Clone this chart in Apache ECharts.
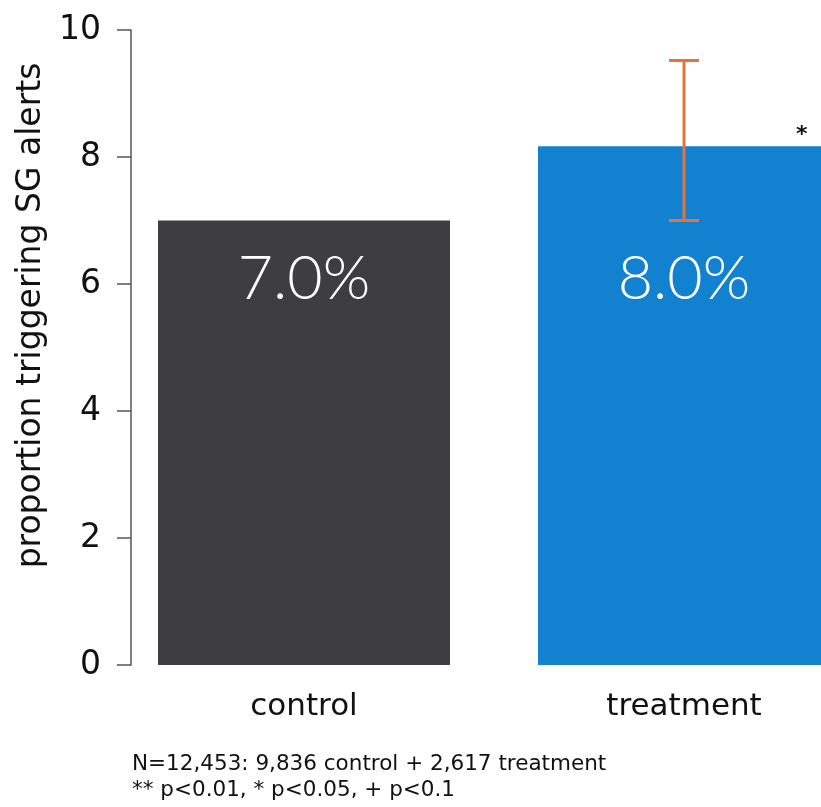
<!DOCTYPE html>
<html>
<head>
<meta charset="utf-8">
<script src="https://cdn.jsdelivr.net/npm/echarts@6/dist/echarts.min.js"></script>
<style>html,body{margin:0;padding:0;background:#fff}#c{width:821px;height:807px}</style>
</head>
<body>
<div id="c"></div>
<script>
const categories = ['control', 'treatment'];
const values = [7.0, 8.17];
const barLabels = ['7.0%', '8.0%'];
const significance = ['', '*'];
const errLow = [null, 7.0];
const errHigh = [null, 9.52];
const yTicks = [0, 2, 4, 6, 8, 10];
const yName = 'proportion triggering SG alerts';
const footnote = ['N=12,453: 9,836 control + 2,617 treatment', '** p<0.01, * p<0.05, + p<0.1'];

const FONT = '"DejaVu Sans", "Noto Sans", sans-serif';
const LIGHT = 'Lato, "Noto Sans", sans-serif';
const barColors = ['#3e3e42', '#1282d0'];

const chart = echarts.init(document.getElementById('c'), null, {renderer: 'canvas'});

const errData = [];
errLow.forEach((lo, i) => { if (lo != null) errData.push([i, lo, errHigh[i]]); });

chart.setOption({
  animation: false,
  backgroundColor: '#fff',
  grid: {left: 114, top: 30, right: -53, height: 635, containLabel: false, outerBoundsMode: 'none'},
  xAxis: {
    type: 'category',
    data: categories,
    axisLine: {show: false},
    axisTick: {show: false},
    axisLabel: {color: '#111', fontSize: 31, fontFamily: FONT, margin: 26}
  },
  yAxis: {
    type: 'value',
    min: yTicks[0],
    max: yTicks[yTicks.length - 1],
    interval: 2,
    offset: -17,
    splitLine: {show: false},
    axisLine: {show: true, lineStyle: {color: '#555', width: 1.5}},
    axisTick: {show: true, length: 14, lineStyle: {color: '#555', width: 1.5}},
    axisLabel: {color: '#111', fontSize: 33, fontFamily: FONT, margin: 30},
    name: yName,
    nameLocation: 'middle',
    nameGap: 74,
    nameTextStyle: {color: '#111', fontSize: 33, fontFamily: FONT, padding: [0, 0, 0, 64]}
  },
  series: [
    {
      type: 'bar',
      barWidth: 292,
      data: values.map((v, i) => ({
        value: v,
        itemStyle: {color: barColors[i]},
        label: {
          show: significance[i] !== '',
          formatter: significance[i],
          position: [258, -22],
          color: '#111', fontSize: 22, fontFamily: FONT, fontWeight: 'bold'
        }
      }))
    },
    {
      type: 'custom',
      data: barLabels.map((t, i) => [i, 6.08]),
      renderItem: function (params, api) {
        const p = api.coord([api.value(0), api.value(1)]);
        return {
          type: 'text',
          style: {
            text: barLabels[params.dataIndex],
            x: p[0], y: p[1],
            textAlign: 'center', textVerticalAlign: 'middle',
            fill: '#fff', fontSize: 61, fontFamily: LIGHT, fontWeight: 300
          }
        };
      },
      z: 5
    },
    {
      type: 'custom',
      data: errData,
      renderItem: function (params, api) {
        const lo = api.coord([api.value(0), api.value(1)]);
        const hi = api.coord([api.value(0), api.value(2)]);
        const hw = 15;
        const st = {stroke: '#e8733a', lineWidth: 3};
        return {
          type: 'group',
          children: [
            {type: 'line', shape: {x1: lo[0], y1: lo[1], x2: hi[0], y2: hi[1]}, style: st},
            {type: 'line', shape: {x1: lo[0] - hw, y1: lo[1], x2: lo[0] + hw, y2: lo[1]}, style: st},
            {type: 'line', shape: {x1: hi[0] - hw, y1: hi[1], x2: hi[0] + hw, y2: hi[1]}, style: st}
          ]
        };
      },
      z: 6
    }
  ],
  graphic: [
    {
      type: 'text', left: 132, top: 751,
      style: {text: footnote.join('\n'), fill: '#111', fontSize: 21.5, fontFamily: FONT, lineHeight: 26}
    }
  ]
});
</script>
</body>
</html>
